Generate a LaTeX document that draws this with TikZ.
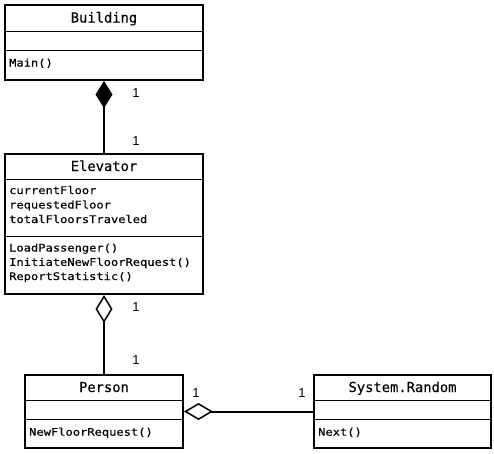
\documentclass[tikz,border=0pt]{standalone}
\usepackage{fontspec}
\setmainfont{Liberation Sans}
\newfontfamily\umlmono[FakeStretch=1.15,FakeBold=0.3]{DejaVu Sans Mono}
\newfontfamily\umltitle[FakeBold=0.3]{DejaVu Sans Mono}
\usetikzlibrary{arrows.meta}
\begin{document}
\begin{tikzpicture}[x=1pt,y=-1pt,
  cls/.style={draw,line width=2pt,inner sep=0,anchor=north west},
  sep/.style={line width=1pt},
  ttl/.style={font=\umltitle\fontsize{13.8}{16}\selectfont,anchor=base,inner sep=0},
  mem/.style={font=\umlmono\fontsize{10.5}{13}\selectfont,anchor=base west,inner sep=0},
  mult/.style={font=\fontsize{13}{15}\selectfont,inner sep=0},
  conn/.style={line width=2pt}]
\useasboundingbox (0,0) rectangle (494,453);

% Building
\node[cls,minimum width=198pt,minimum height=75pt] (building) at (4,4) {};
\draw[sep] (building.west |- 0,31) -- (building.east |- 0,31);
\draw[sep] (building.west |- 0,50) -- (building.east |- 0,50);
\node[ttl] (building-t) at (building.north |- 0,22.5) {Building};
\node[mem] (building-m1) at (9,66.5) {Main()};

% Elevator
\node[cls,minimum width=198pt,minimum height=140pt] (elevator) at (4,153) {};
\draw[sep] (elevator.west |- 0,179) -- (elevator.east |- 0,179);
\draw[sep] (elevator.west |- 0,236) -- (elevator.east |- 0,236);
\node[ttl] (elevator-t) at (elevator.north |- 0,171) {Elevator};
\node[mem] (elevator-a1) at (9,194) {currentFloor};
\node[mem] (elevator-a2) at (9,208.5) {requestedFloor};
\node[mem] (elevator-a3) at (9,223) {totalFloorsTraveled};
\node[mem] (elevator-m1) at (9,251.5) {LoadPassenger()};
\node[mem] (elevator-m2) at (9,265.8) {InitiateNewFloorRequest()};
\node[mem] (elevator-m3) at (9,280) {ReportStatistic()};

% Person
\node[cls,minimum width=158pt,minimum height=73pt] (person) at (24,374) {};
\draw[sep] (person.west |- 0,400) -- (person.east |- 0,400);
\draw[sep] (person.west |- 0,419) -- (person.east |- 0,419);
\node[ttl] (person-t) at (person.north |- 0,392) {Person};
\node[mem] (person-m1) at (29,435.7) {NewFloorRequest()};

% System.Random
\node[cls,minimum width=177pt,minimum height=73pt] (random) at (313,374) {};
\draw[sep] (random.west |- 0,400) -- (random.east |- 0,400);
\draw[sep] (random.west |- 0,419) -- (random.east |- 0,419);
\node[ttl] (random-t) at (random.north |- 0,392) {System.Random};
\node[mem] (random-m1) at (318,435.7) {Next()};

% Connectors
\draw[conn,{Diamond[length=27pt,width=17pt]}-] (building.south) -- (elevator.north);
\draw[conn,{Diamond[open,length=28pt,width=17pt,line width=1.5pt]}-] (elevator.south) -- (person.north);
\draw[conn,{Diamond[open,length=29pt,width=17pt,line width=1.5pt]}-] (person.east) -- (random.west);

% Multiplicities
\node[mult] (mul1) at (136,93) {1};
\node[mult] (mul2) at (136,141) {1};
\node[mult] (mul3) at (136,307) {1};
\node[mult] (mul4) at (136,360.5) {1};
\node[mult] (mul5) at (196,393) {1};
\node[mult] (mul6) at (302,393) {1};
\end{tikzpicture}
\end{document}
